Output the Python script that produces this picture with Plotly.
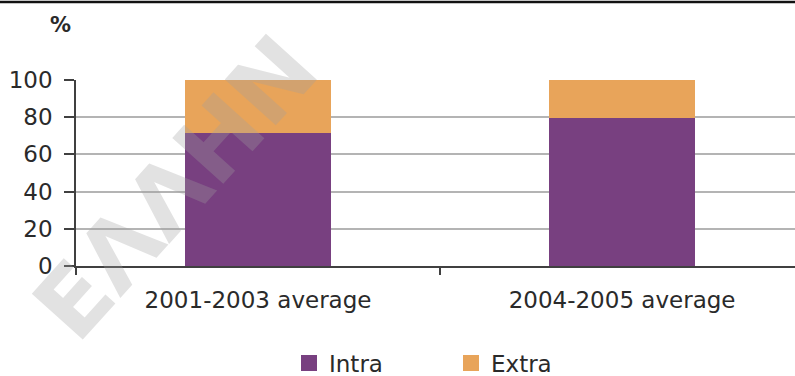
import plotly.graph_objects as go

# Trade shares by origin, in percent of the total
periods = ["2001-2003 average", "2004-2005 average"]
intra = [71.5, 79.5]
extra = [28.5, 20.5]
y_ticks = [0, 20, 40, 60, 80, 100]

PURPLE = "#784080"
ORANGE = "#E8A45A"
AXIS = "#404040"
GRID = "#B4B4B4"
TEXT = "#2a2a2a"
FONT = "DejaVu Sans, sans-serif"

W, H = 795, 376
L, R, T, B = 76, 0, 80, 110
plot_w = W - L - R
plot_h = H - T - B


def px_x(px):
    return (px - L) / plot_w


def px_y(py):
    return (H - B - py) / plot_h


fig = go.Figure()
fig.add_trace(go.Bar(x=periods, y=intra, name="Intra", marker=dict(color=PURPLE, line=dict(width=0)),
                     width=0.4, showlegend=False))
fig.add_trace(go.Bar(x=periods, y=extra, name="Extra", marker=dict(color=ORANGE, line=dict(width=0)),
                     width=0.4, showlegend=False))

# Square swatches for the legend
for name, col in [("Intra", PURPLE), ("Extra", ORANGE)]:
    fig.add_trace(go.Scatter(x=[None], y=[None], mode="markers", name=name,
                             marker=dict(symbol="square", size=19, color=col)))

fig.update_layout(
    width=W, height=H,
    margin=dict(l=L, r=R, t=T, b=B, pad=0),
    barmode="stack",
    paper_bgcolor="white", plot_bgcolor="white",
    font=dict(family=FONT, size=23, color=TEXT),
    showlegend=True,
    legend=dict(orientation="h", traceorder="normal",
                xref="container", x=289 / W, xanchor="left",
                yref="container", y=(H - 363) / H, yanchor="middle",
                entrywidth=117, entrywidthmode="pixels", itemwidth=30,
                font=dict(size=23, color=TEXT), bgcolor="rgba(0,0,0,0)"),
    xaxis=dict(type="category", range=[-0.5, 1.475], tickson="boundaries",
               ticks="outside", ticklen=7, tickwidth=1.5, tickcolor=AXIS,
               showline=True, linecolor=AXIS, linewidth=2, showgrid=False,
               ticklabelstandoff=12, tickfont=dict(size=23, color=TEXT)),
    yaxis=dict(range=[0, 100], tickvals=y_ticks, ticks="outside", ticklen=10,
               tickwidth=1.5, tickcolor=AXIS, showline=True, linecolor=AXIS, linewidth=1.5,
               showgrid=True, gridcolor=GRID, gridwidth=2, zeroline=False,
               tickfont=dict(size=23, color=TEXT), ticklabelstandoff=7),
    annotations=[
        dict(text="<b>%</b>", xref="paper", yref="paper", x=px_x(60), y=px_y(25),
             showarrow=False, font=dict(size=21, color=TEXT), xanchor="center", yanchor="middle"),
        dict(text="<b>ΕΛΛΗΝ</b>", xref="paper", yref="paper", x=px_x(175), y=px_y(188),
             showarrow=False, textangle=-48, opacity=0.3,
             font=dict(family="DejaVu Sans, sans-serif", size=94, color="#a0a0a0"),
             xanchor="center", yanchor="middle"),
    ],
    shapes=[
        dict(type="line", xref="paper", yref="paper", x0=px_x(-5), x1=px_x(W + 5),
             y0=px_y(2), y1=px_y(2), line=dict(color="#111111", width=2.5)),
    ],
)

fig.write_html("out.html")
